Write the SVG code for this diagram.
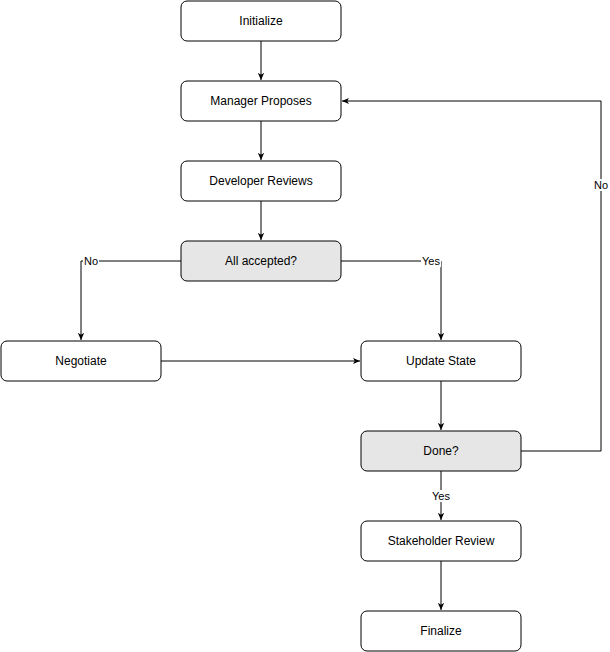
<svg xmlns="http://www.w3.org/2000/svg" width="610" height="652" viewBox="0 0 610 652">
<style>
.n rect{fill:#fff;stroke:#000;stroke-width:1}
.g rect{fill:#e6e6e6;stroke:#000;stroke-width:1}
text{font-family:"Liberation Sans",Arial,sans-serif;font-size:12px;text-anchor:middle;dominant-baseline:central;fill:#000}
.c path{fill:none;stroke:#000;stroke-width:1;marker-end:url(#a)}
.l rect{fill:#fff}
.l text{font-size:11px}
</style>
<defs><marker id="a" viewBox="0 0 10 10" refX="9" refY="5" markerWidth="8" markerHeight="8" orient="auto" markerUnits="userSpaceOnUse"><path d="M0,1 L9,5 L0,9 L2.5,5 Z" fill="#000"/></marker></defs>
<rect width="610" height="652" fill="#fff"/>
<g class="c">
<path d="M261,41V80"/>
<path d="M261,121V160"/>
<path d="M261,201V240"/>
<path d="M181,261H81V340"/>
<path d="M341,261H441V340"/>
<path d="M161,361H360"/>
<path d="M441,381V430"/>
<path d="M441,471V520"/>
<path d="M521,451H601V101H342"/>
<path d="M441,561V610"/>
</g>
<g class="l">
<rect x="83" y="255" width="16" height="12"/><text x="91" y="261">No</text>
<rect x="421" y="255" width="20" height="12"/><text x="431" y="261">Yes</text>
<rect x="431" y="490" width="20" height="12"/><text x="441" y="496">Yes</text>
<rect x="593" y="179" width="16" height="12"/><text x="601" y="185">No</text>
</g>
<g id="initialize" class="n"><rect x="181" y="1" width="160" height="40" rx="6"/><text x="261" y="21">Initialize</text></g>
<g id="manager" class="n"><rect x="181" y="81" width="160" height="40" rx="6"/><text x="261" y="101">Manager Proposes</text></g>
<g id="developer" class="n"><rect x="181" y="161" width="160" height="40" rx="6"/><text x="261" y="181">Developer Reviews</text></g>
<g id="accepted" class="g"><rect x="181" y="241" width="160" height="40" rx="6"/><text x="261" y="261">All accepted?</text></g>
<g id="negotiate" class="n"><rect x="1" y="341" width="160" height="40" rx="6"/><text x="81" y="361">Negotiate</text></g>
<g id="update" class="n"><rect x="361" y="341" width="160" height="40" rx="6"/><text x="441" y="361">Update State</text></g>
<g id="done" class="g"><rect x="361" y="431" width="160" height="40" rx="6"/><text x="441" y="451">Done?</text></g>
<g id="stakeholder" class="n"><rect x="361" y="521" width="160" height="40" rx="6"/><text x="441" y="541">Stakeholder Review</text></g>
<g id="finalize" class="n"><rect x="361" y="611" width="160" height="40" rx="6"/><text x="441" y="631">Finalize</text></g>
</svg>
